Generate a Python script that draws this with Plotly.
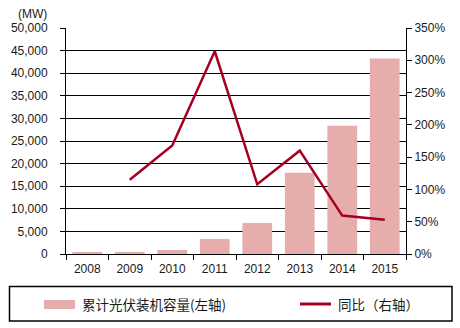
import plotly.graph_objects as go

years = ["2008", "2009", "2010", "2011", "2012", "2013", "2014", "2015"]
capacity = [450, 480, 900, 3330, 6870, 17960, 28380, 43240]
yoy_years = ["2009", "2010", "2011", "2012", "2013", "2014", "2015"]
yoy = [115, 168, 314, 108, 160, 59.5, 53]

bar_name = "累计光伏装机容量(左轴)"
line_name = "同比（右轴）"
bar_color = "#E6ADAD"
line_color = "#A50021"

W, H = 460, 328
L, R, T, B = 66, 54, 28, 74
pw, ph = W - L - R, H - T - B


def px(x):
    return (x - L) / pw


def py(y):
    return (H - B - y) / ph


fig = go.Figure()
fig.add_trace(go.Bar(x=years, y=capacity, name=bar_name, marker_color=bar_color,
                     marker_line_width=0, yaxis="y"))
fig.add_trace(go.Scatter(x=yoy_years, y=yoy, name=line_name, mode="lines",
                         line=dict(color=line_color, width=2.5), yaxis="y2"))

font = dict(family="Liberation Sans, Arial, sans-serif", size=12, color="#1a1a1a")
lfont = dict(family="Noto Sans CJK SC", size=13.5, color="#1a1a1a")
fig.update_layout(
    width=W, height=H,
    margin=dict(l=L, r=R, t=T, b=B, autoexpand=False),
    paper_bgcolor="white", plot_bgcolor="white",
    font=font,
    bargap=0.3,
    showlegend=False,
    xaxis=dict(type="category", showline=True, linecolor="black", linewidth=1,
               ticks="outside", tickson="boundaries", ticklen=5, tickcolor="black",
               showgrid=False, tickfont=font, ticklabelstandoff=4),
    yaxis=dict(range=[0, 50000], dtick=5000, tickformat=",", showline=True,
               linecolor="black", ticks="outside", ticklen=5, tickcolor="black",
               showgrid=True, gridcolor="black", gridwidth=1, zeroline=False,
               tickfont=font, ticklabelstandoff=10),
    yaxis2=dict(range=[0, 350], dtick=50, ticksuffix="%", overlaying="y", side="right",
                showline=True, linecolor="black", ticks="outside", ticklen=5,
                tickcolor="black", showgrid=False, zeroline=False, tickfont=font),
    shapes=[
        dict(type="rect", xref="paper", yref="paper", x0=px(9.5), x1=px(452),
             y0=py(286.5), y1=py(321), line=dict(color="black", width=1.5)),
        dict(type="rect", xref="paper", yref="paper", x0=px(44), x1=px(75),
             y0=py(300), y1=py(309), fillcolor=bar_color, line=dict(width=0)),
        dict(type="line", xref="paper", yref="paper", x0=px(300), x1=px(331),
             y0=py(304), y1=py(304), line=dict(color=line_color, width=3)),
    ],
    annotations=[
        dict(text="(MW)", xref="paper", yref="paper", x=px(32), y=py(14),
             xanchor="center", yanchor="middle", showarrow=False, font=font),
        dict(text=bar_name, xref="paper", yref="paper", x=px(80), y=py(304),
             xanchor="left", yanchor="middle", showarrow=False, font=lfont),
        dict(text=line_name, xref="paper", yref="paper", x=px(336), y=py(304),
             xanchor="left", yanchor="middle", showarrow=False, font=lfont),
    ],
)

fig.write_html("out.html")
